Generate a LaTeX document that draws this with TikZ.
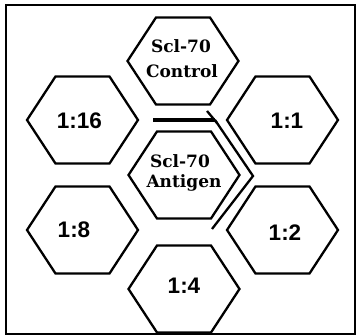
\documentclass[tikz,border=0pt]{standalone}
\usepackage{fontspec}
\setmainfont{Liberation Sans}
\newfontfamily\labserif{DejaVu Serif}
\tikzset{
  hexline/.style={draw=black, line width=2.3pt, line join=miter},
  hexa/.pic={\path[hexline] (-55.5,0) -- (-27,-43.5) -- (27,-43.5) -- (55.5,0) -- (27,43.5) -- (-27,43.5) -- cycle;},
  numlab/.style={font=\fontsize{22.5}{24}\selectfont\bfseries, inner sep=0pt},
  serlab/.style={font=\labserif\fontsize{17}{18}\selectfont\bfseries, inner sep=0pt},
  barline/.style={draw=black, line width=2.3pt},
}
\begin{document}
\begin{tikzpicture}[x=1pt, y=-1pt]
\useasboundingbox (0,0) rectangle (356,336);
\draw[line width=2pt] (6,5) rectangle (354.5,334.5);
% hexagon centres
\coordinate (hC) at (183,61);
\coordinate (h16) at (82.5,120);
\coordinate (h1) at (282.5,120);
\coordinate (hA) at (184,175);
\coordinate (h8) at (82.5,230);
\coordinate (h2) at (282.5,230);
\coordinate (h4) at (184,289);
\foreach \c in {hC,h16,h1,hA,h8,h2,h4} { \pic at (\c) {hexa}; }
% labels
\node[serlab] (tC1) at (181,46) {Scl-70};
\node[serlab] (tC2) at (182,71) {Control};
\node[serlab] (tA1) at (180,161) {Scl-70};
\node[serlab] (tA2) at (184,183) {Antigen};
\node[numlab] (t16) at (79.5,121) {1:16};
\node[numlab] (t1) at (287,121) {1:1};
\node[numlab] (t8) at (74,230) {1:8};
\node[numlab] (t2) at (285,233) {1:2};
\node[numlab] (t4) at (184,286) {1:4};
% trough lines
\coordinate (b0) at (153,120);
\coordinate (b1) at (215,120);
\coordinate (b2) at (253,176);
\coordinate (b3) at (212,229);
\coordinate (k0) at (207,111);
\coordinate (k1) at (217,123);
\draw[line width=3.5pt] (b0) -- (b1);
\draw[barline, line join=miter] (b1) -- (b2) -- (b3);
\draw[barline] (k0) -- (k1);
\end{tikzpicture}
\end{document}
